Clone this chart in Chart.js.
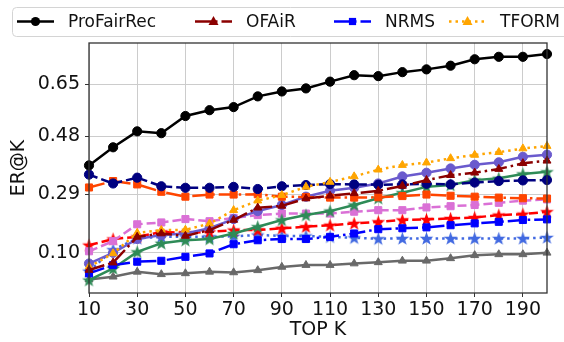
<!DOCTYPE html>
<html>
<head>
<meta charset="utf-8">
<script src="https://cdn.jsdelivr.net/npm/chart.js@4.4.1/dist/chart.umd.min.js"></script>
<style>
  html, body { margin: 0; padding: 0; background: #fff; }
</style>
</head>
<body>
<canvas id="erChart" width="564" height="342"></canvas>
<script>
// TOP K values and tick labels
const topK = [10, 20, 30, 40, 50, 60, 70, 80, 90, 100, 110, 120, 130, 140, 150, 160, 170, 180, 190, 200];
const xTicks = [10, 30, 50, 70, 90, 110, 130, 150, 170, 190];
const yTicks = [0.10, 0.29, 0.48, 0.65];

// ER@K per method
const proFairRec = [0.385, 0.444, 0.496, 0.490, 0.546, 0.565, 0.575, 0.610, 0.626, 0.636, 0.658, 0.679, 0.676, 0.689, 0.698, 0.710, 0.731, 0.739, 0.739, 0.748];
const ofair      = [0.044, 0.068, 0.152, 0.163, 0.155, 0.174, 0.207, 0.247, 0.253, 0.277, 0.286, 0.294, 0.302, 0.318, 0.337, 0.353, 0.361, 0.373, 0.392, 0.400];
const nrms       = [0.033, 0.060, 0.071, 0.074, 0.087, 0.098, 0.128, 0.141, 0.145, 0.145, 0.152, 0.163, 0.177, 0.180, 0.183, 0.190, 0.196, 0.201, 0.207, 0.209];
const tform      = [0.054, 0.098, 0.165, 0.174, 0.175, 0.195, 0.239, 0.270, 0.288, 0.315, 0.331, 0.349, 0.371, 0.386, 0.394, 0.408, 0.419, 0.428, 0.440, 0.448];
const navyRun    = [0.355, 0.326, 0.345, 0.317, 0.312, 0.312, 0.315, 0.308, 0.317, 0.321, 0.324, 0.323, 0.322, 0.323, 0.325, 0.323, 0.329, 0.334, 0.336, 0.337];
const orangeRun  = [0.313, 0.334, 0.323, 0.299, 0.283, 0.290, 0.290, 0.291, 0.283, 0.282, 0.280, 0.280, 0.281, 0.285, 0.290, 0.286, 0.283, 0.280, 0.278, 0.277];
const purpleRun  = [0.065, 0.100, 0.145, 0.158, 0.163, 0.180, 0.210, 0.236, 0.256, 0.283, 0.302, 0.312, 0.326, 0.349, 0.361, 0.375, 0.387, 0.395, 0.413, 0.420];
const greenRun   = [0.011, 0.049, 0.103, 0.131, 0.141, 0.145, 0.163, 0.185, 0.207, 0.223, 0.236, 0.256, 0.278, 0.296, 0.315, 0.321, 0.337, 0.343, 0.357, 0.364];
const orchidRun  = [0.105, 0.138, 0.193, 0.199, 0.210, 0.203, 0.214, 0.223, 0.228, 0.228, 0.228, 0.234, 0.239, 0.239, 0.248, 0.252, 0.256, 0.263, 0.270, 0.274];
const redRun     = [0.125, 0.145, 0.152, 0.168, 0.165, 0.168, 0.174, 0.174, 0.180, 0.185, 0.190, 0.196, 0.201, 0.207, 0.209, 0.212, 0.215, 0.223, 0.226, 0.234];
const royalRun   = [0.040, 0.110, 0.147, 0.152, 0.152, 0.152, 0.154, 0.158, 0.155, 0.155, 0.152, 0.149, 0.146, 0.147, 0.147, 0.147, 0.147, 0.147, 0.147, 0.150];
const grayRun    = [0.013, 0.022, 0.038, 0.030, 0.033, 0.038, 0.036, 0.043, 0.054, 0.060, 0.060, 0.065, 0.069, 0.074, 0.074, 0.082, 0.092, 0.095, 0.095, 0.100];

const DASHED = [9, 4];
const DASHDOT = [16, 4, 2.5, 4];
const DOTTED = [2.5, 4];

function starImage(color) {
    const c = document.createElement('canvas');
    c.width = 15; c.height = 15;
    const g = c.getContext('2d');
    g.fillStyle = color;
    g.beginPath();
    for (let i = 0; i < 10; i++) {
        const r = i % 2 ? 2.9 : 7.2;
        const a = -Math.PI / 2 + i * Math.PI / 5;
        g.lineTo(7.5 + r * Math.cos(a), 8 + r * Math.sin(a));
    }
    g.closePath();
    g.fill();
    return c;
}

const series = [
    { label: 'ProFairRec', data: proFairRec, color: '#000000', dash: [],      marker: 'circle',   legend: true },
    { label: 'OFAiR',      data: ofair,      color: '#8B0000', dash: DASHDOT, marker: 'triangle', legend: true },
    { label: 'NRMS',       data: nrms,       color: '#0000FF', dash: DASHDOT, marker: 'rect',     legend: true },
    { label: 'TFORM',      data: tform,      color: '#FFA500', dash: DOTTED,  marker: 'triangle', legend: true },
    { label: 'm5',  data: navyRun,   color: '#000080', dash: DASHED,  marker: 'circle' },
    { label: 'm6',  data: orangeRun, color: '#FF4500', dash: DASHDOT, marker: 'rect' },
    { label: 'm7',  data: purpleRun, color: '#6A5ACD', dash: [],      marker: 'circle' },
    { label: 'm8',  data: greenRun,  color: '#2E8B57', dash: [],      marker: 'star' },
    { label: 'm9',  data: orchidRun, color: '#DA70D6', dash: DASHED,  marker: 'rect' },
    { label: 'm10', data: redRun,    color: '#FF0000', dash: DASHED,  marker: 'star' },
    { label: 'm11', data: royalRun,  color: '#4169E1', dash: DOTTED,  marker: 'star' },
    { label: 'm12', data: grayRun,   color: '#696969', dash: [],      marker: 'triangle' }
];

const datasets = series.map(s => ({
    label: s.label,
    data: s.data.map((v, i) => ({ x: topK[i], y: v })),
    borderColor: s.color,
    backgroundColor: s.color,
    borderWidth: 2.5,
    borderDash: s.dash,
    borderCapStyle: 'butt',
    tension: 0,
    pointStyle: s.marker === 'star' ? starImage(s.color) : s.marker,
    pointRadius: s.marker === 'rect' ? 5 : 4.6,
    pointBackgroundColor: s.color,
    pointBorderColor: s.color,
    pointBorderWidth: 1,
    clip: false
}));

function drawMarker(ctx, type, x, y, color) {
    ctx.fillStyle = color;
    ctx.beginPath();
    if (type === 'circle') {
        ctx.arc(x, y, 4.6, 0, Math.PI * 2);
    } else if (type === 'rect') {
        ctx.rect(x - 3.6, y - 3.6, 7.2, 7.2);
    } else {
        ctx.moveTo(x, y - 5.5);
        ctx.lineTo(x + 5, y + 3.5);
        ctx.lineTo(x - 5, y + 3.5);
        ctx.closePath();
    }
    ctx.fill();
}

const legendBox = {
    id: 'legendBox',
    afterDraw(chart) {
        const ctx = chart.ctx;
        ctx.save();
        ctx.beginPath();
        ctx.roundRect(12.5, 7.5, 600, 29, 4);
        ctx.fillStyle = 'rgba(255,255,255,0.85)';
        ctx.fill();
        ctx.strokeStyle = '#d4d4d4';
        ctx.lineWidth = 1;
        ctx.stroke();

        const starts = [17, 195, 334, 449];
        const ly = 21.5;
        series.filter(s => s.legend).forEach((s, i) => {
            const x0 = starts[i];
            ctx.beginPath();
            ctx.setLineDash(s.dash);
            ctx.lineCap = 'butt';
            ctx.strokeStyle = s.color;
            ctx.lineWidth = 2.5;
            ctx.moveTo(x0, ly);
            ctx.lineTo(x0 + 37, ly);
            ctx.stroke();
            ctx.setLineDash([]);
            drawMarker(ctx, s.marker, x0 + 18.5, ly, s.color);
            ctx.fillStyle = '#111';
            ctx.font = '17px "DejaVu Sans"';
            ctx.textBaseline = 'middle';
            ctx.fillText(s.label, x0 + 51, ly + 1);
        });
        ctx.restore();
    }
};

const frame = {
    id: 'frame',
    afterDatasetsDraw(chart) {
        const a = chart.chartArea;
        const ctx = chart.ctx;
        ctx.save();
        ctx.strokeStyle = '#333';
        ctx.lineWidth = 1.3;
        ctx.strokeRect(a.left, a.top, a.right - a.left, a.bottom - a.top);
        ctx.restore();
    }
};

new Chart(document.getElementById('erChart').getContext('2d'), {
    type: 'line',
    data: { datasets: datasets },
    options: {
        responsive: false,
        animation: false,
        devicePixelRatio: 1,
        layout: { padding: { left: 0, top: 43, right: 17, bottom: 0 } },
        plugins: { legend: { display: false }, tooltip: { enabled: false } },
        scales: {
            x: {
                type: 'linear',
                min: 10,
                max: 200,
                afterFit: s => { s.height = 49; },
                afterBuildTicks: s => { s.ticks = xTicks.map(v => ({ value: v })); },
                border: { display: false },
                grid: { color: '#cccccc', lineWidth: 1, tickColor: '#333', tickLength: 4 },
                ticks: { color: '#111', font: { family: 'DejaVu Sans', size: 19 }, padding: 2, maxRotation: 0, autoSkip: false },
                title: { display: true, text: 'TOP K', color: '#111', font: { family: 'DejaVu Sans', size: 19 }, padding: { top: 0, bottom: 1 } }
            },
            y: {
                type: 'linear',
                min: -0.031,
                max: 0.784,
                afterFit: s => { s.width = 89; },
                afterBuildTicks: s => { s.ticks = yTicks.map(v => ({ value: v })); },
                border: { display: false },
                grid: { color: '#cccccc', lineWidth: 1, tickColor: '#333', tickLength: 4 },
                ticks: { color: '#111', font: { family: 'DejaVu Sans', size: 19 }, padding: 5, callback: v => v.toFixed(2) },
                title: { display: true, text: 'ER@K', color: '#111', font: { family: 'DejaVu Sans', size: 19 }, padding: { top: 8, bottom: 0 } }
            }
        }
    },
    plugins: [legendBox, frame]
});
</script>
</body>
</html>
